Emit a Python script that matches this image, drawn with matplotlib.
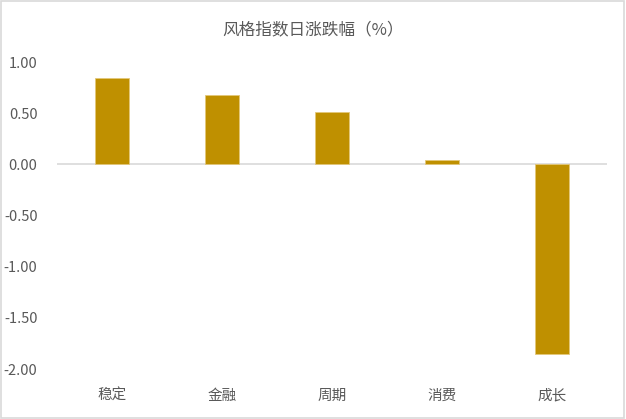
import matplotlib.pyplot as plt
from matplotlib.patches import Rectangle

plt.rcParams['font.family'] = ['Noto Sans CJK SC', 'DejaVu Sans']

categories = ["稳定", "金融", "周期", "消费", "成长"]
values = [0.84, 0.68, 0.51, 0.04, -1.85]
yticks = [1.0, 0.5, 0.0, -0.5, -1.0, -1.5, -2.0]

fig = plt.figure(figsize=(6.26, 4.19), dpi=100)
ax = fig.add_axes([0.091, 0.119, 0.879, 0.733])

x = range(len(categories))
ax.bar(x, values, width=0.31, color="#BF9000", edgecolor="#E3C77A", linewidth=0.6, zorder=3)
ax.axhline(0, color="#D9D9D9", lw=1.2, zorder=2)

ax.set_xlim(-0.5, len(categories) - 0.5)
ax.set_ylim(-2.0, 1.0)
ax.set_yticks(yticks)
ax.set_yticklabels(["%.2f" % v for v in yticks])
ax.set_xticks(list(x))
ax.set_xticklabels(categories)
ax.tick_params(axis="y", length=0, pad=14, labelsize=10.5, labelcolor="#595959")
ax.tick_params(axis="x", length=0, pad=14, labelsize=10.5, labelcolor="#595959")
for s in ax.spines.values():
    s.set_visible(False)

fig.text(0.5, 0.93, "风格指数日涨跌幅（%）", ha="center", va="center",
         fontsize=12, color="#595959")

# outer border
fig.patches.append(Rectangle((0.002, 0.003), 0.995, 0.994, transform=fig.transFigure,
                             fill=False, edgecolor="#D9D9D9", lw=1.2))

fig.savefig("out.png", dpi=100)
